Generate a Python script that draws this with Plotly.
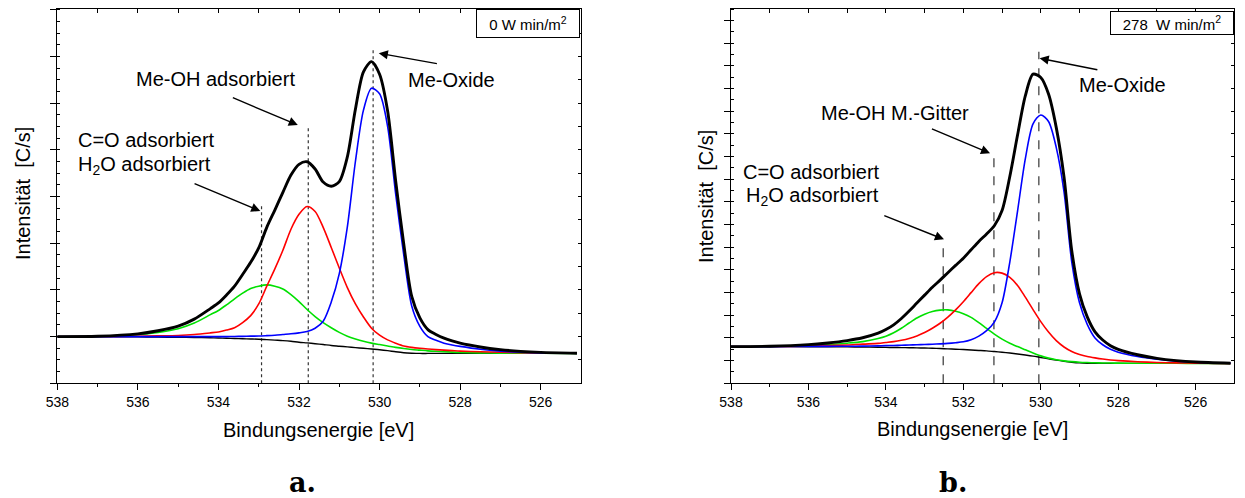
import plotly.graph_objects as go

# ---------------- data: panel a (0 W min/m2) ----------------
energy_a = [538, 537, 536, 535.5, 535, 534.6, 534.2,
            534.0, 533.8, 533.6, 533.4, 533.2, 533.0, 532.8, 532.6, 532.4, 532.2,
            532.0, 531.8, 531.6, 531.4, 531.2, 531.0, 530.8, 530.6, 530.4, 530.2,
            530.0, 529.8, 529.6, 529.4, 529.2, 529.0, 528.8, 528.6, 528.4, 528.2, 528.0,
            527.5, 527.0, 526.5, 526.0, 525.1]
background_a = [1.00, 1.00, 0.995, 0.99, 0.985, 0.98, 0.975,
                0.97, 0.965, 0.96, 0.955, 0.95, 0.945, 0.935, 0.925, 0.915, 0.90,
                0.88, 0.865, 0.848, 0.83, 0.81, 0.795, 0.78, 0.765, 0.75, 0.735,
                0.72, 0.70, 0.675, 0.655, 0.645, 0.64, 0.64, 0.64, 0.64, 0.64, 0.64,
                0.64, 0.64, 0.64, 0.64, 0.64]
green_a = [1.00, 1.005, 1.04, 1.09, 1.17, 1.29, 1.47,
           1.56, 1.68, 1.81, 1.93, 2.03, 2.08, 2.107, 2.08, 2.02, 1.90,
           1.75, 1.58, 1.43, 1.30, 1.19, 1.09, 1.01, 0.95, 0.90, 0.86,
           0.83, 0.80, 0.77, 0.745, 0.725, 0.71, 0.695, 0.685, 0.677, 0.668, 0.66,
           0.652, 0.647, 0.644, 0.642, 0.64]
red_a = [1.00, 1.002, 1.008, 1.015, 1.025, 1.045, 1.08,
         1.10, 1.14, 1.19, 1.30, 1.45, 1.70, 2.08, 2.45, 2.85, 3.30,
         3.62, 3.785, 3.68, 3.34, 2.91, 2.47, 2.05, 1.70, 1.42, 1.18,
         1.03, 0.93, 0.86, 0.80, 0.77, 0.75, 0.735, 0.722, 0.71, 0.70, 0.69,
         0.676, 0.664, 0.655, 0.648, 0.642]
blue_a = [1.00, 1.00, 1.00, 1.00, 1.00, 1.00, 1.00,
          1.00, 1.00, 1.003, 1.006, 1.01, 1.012, 1.02, 1.03, 1.045, 1.06,
          1.08, 1.11, 1.18, 1.33, 1.74, 2.35, 3.35, 4.75, 5.85, 6.32,
          6.20, 5.50, 4.05, 2.75, 1.65, 1.22, 1.00, 0.92, 0.86, 0.82, 0.79,
          0.73, 0.69, 0.665, 0.652, 0.642]
total_a = [1.00, 1.007, 1.058, 1.125, 1.225, 1.375, 1.60,
           1.72, 1.89, 2.08, 2.33, 2.59, 2.90, 3.34, 3.71, 4.09, 4.46,
           4.69, 4.745, 4.59, 4.31, 4.22, 4.32, 4.85, 5.87, 6.67, 6.89,
           6.62, 5.83, 4.33, 2.985, 1.855, 1.40, 1.15, 1.047, 0.967, 0.908, 0.86,
           0.778, 0.721, 0.684, 0.662, 0.644]
marker_energy_a = [532.93, 531.77, 530.16]
marker_top_a = [3.84, 5.51, 7.18]

# ---------------- data: panel b (278 W min/m2) ----------------
energy_b = list(energy_a)
background_b = [1.62, 1.62, 1.615, 1.61, 1.605, 1.60, 1.59,
                1.585, 1.58, 1.575, 1.57, 1.565, 1.555, 1.545, 1.535, 1.52, 1.505,
                1.49, 1.47, 1.45, 1.43, 1.40, 1.37, 1.335, 1.295, 1.25, 1.20,
                1.14, 1.08, 1.02, 0.97, 0.93, 0.90, 0.885, 0.88, 0.88, 0.88, 0.88,
                0.88, 0.88, 0.88, 0.88, 0.88]
green_b = [1.62, 1.63, 1.67, 1.71, 1.77, 1.84, 1.98,
           2.08, 2.23, 2.43, 2.66, 2.88, 3.05, 3.17, 3.23, 3.24, 3.18,
           3.07, 2.91, 2.68, 2.42, 2.17, 1.95, 1.77, 1.62, 1.48, 1.34,
           1.21, 1.11, 1.04, 0.99, 0.955, 0.93, 0.915, 0.905, 0.898, 0.893, 0.89,
           0.886, 0.884, 0.882, 0.881, 0.88]
red_b = [1.62, 1.625, 1.64, 1.66, 1.69, 1.73, 1.76,
         1.80, 1.84, 1.90, 1.98, 2.09, 2.24, 2.43, 2.65, 2.92, 3.24,
         3.60, 4.00, 4.40, 4.71, 4.88, 4.86, 4.67, 4.32, 3.80, 3.25,
         2.72, 2.26, 1.88, 1.60, 1.40, 1.27, 1.18, 1.12, 1.07, 1.03, 1.00,
         0.95, 0.92, 0.90, 0.89, 0.881]
blue_b = [1.62, 1.62, 1.625, 1.63, 1.635, 1.64, 1.65,
          1.66, 1.67, 1.68, 1.69, 1.70, 1.71, 1.725, 1.74, 1.76, 1.79,
          1.83, 1.92, 2.08, 2.32, 2.70, 3.55, 5.35, 7.60, 9.90, 11.45,
          11.84, 11.55, 10.40, 8.45, 5.35, 3.55, 2.60, 2.00, 1.70, 1.50, 1.37,
          1.18, 1.06, 0.98, 0.93, 0.885]
total_b = [1.62, 1.635, 1.705, 1.78, 1.885, 2.01, 2.21,
           2.37, 2.58, 2.86, 3.19, 3.54, 3.89, 4.24, 4.55, 4.88, 5.20,
           5.52, 5.89, 6.26, 6.59, 6.95, 7.62, 9.12, 10.95, 12.68, 13.64,
           13.49, 12.76, 11.28, 9.10, 5.85, 3.95, 2.93, 2.27, 1.91, 1.66, 1.50,
           1.26, 1.10, 1.00, 0.94, 0.886]
marker_energy_b = [532.52, 531.21, 530.05]
marker_top_b = [6.35, 10.29, 14.63]

x_ticks = [538, 536, 534, 532, 530, 528, 526]

W, H = 1245, 498
FONT = "Liberation Sans, Arial, sans-serif"
GREEN = "#00E000"

fig = go.Figure()


def vlines(xs, tops):
    X, Y = [], []
    for e, t in zip(xs, tops):
        X += [e, e, None]
        Y += [0, t, None]
    return X, Y


def add_panel(xa, ya, E, bg, g, r, b, tot, mE, mT, dash):
    X, Y = vlines(mE, mT)
    fig.add_trace(go.Scatter(x=X, y=Y, mode="lines", xaxis=xa, yaxis=ya,
                             line=dict(color="#333333", width=1.2, dash=dash),
                             hoverinfo="skip", showlegend=False))
    common = dict(mode="lines", xaxis=xa, yaxis=ya, hoverinfo="skip", showlegend=False)
    fig.add_trace(go.Scatter(x=E, y=bg, line=dict(color="black", width=1.4, shape="spline", smoothing=0.8), **common))
    fig.add_trace(go.Scatter(x=E, y=g, line=dict(color=GREEN, width=1.6, shape="spline", smoothing=0.8), **common))
    fig.add_trace(go.Scatter(x=E, y=r, line=dict(color="#FF0000", width=1.6, shape="spline", smoothing=0.8), **common))
    fig.add_trace(go.Scatter(x=E, y=b, line=dict(color="#0000FF", width=1.6, shape="spline", smoothing=0.8), **common))
    fig.add_trace(go.Scatter(x=E, y=tot, line=dict(color="black", width=2.9, shape="spline", smoothing=0.8), **common))


add_panel("x", "y", energy_a, background_a, green_a, red_a, blue_a, total_a,
          marker_energy_a, marker_top_a, "dot")
add_panel("x2", "y2", energy_b, background_b, green_b, red_b, blue_b, total_b,
          marker_energy_b, marker_top_b, "dash")

# dummy traces to activate the mirrored (top / right) axes
fig.add_trace(go.Scatter(x=[538], y=[0], xaxis="x3", yaxis="y3", mode="markers",
                         marker=dict(opacity=0), hoverinfo="skip", showlegend=False))
fig.add_trace(go.Scatter(x=[538], y=[0], xaxis="x4", yaxis="y4", mode="markers",
                         marker=dict(opacity=0), hoverinfo="skip", showlegend=False))

ydom = [1 - 383.3 / H, 1 - 9.3 / H]
xdom_a = [57.3 / W, 581 / W]
xdom_b = [731 / W, 1234.4 / W]
yr_a = [0, 8.01]
yr_b = [0, 16.5]

axline = dict(showline=True, linecolor="black", linewidth=1.3, showgrid=False,
              zeroline=False, tickcolor="black", tickwidth=1.1, automargin=False)


def xbottom(dom, yanchor):
    return dict(domain=dom, anchor=yanchor, range=[538, 525], tickmode="array",
                tickvals=x_ticks, ticktext=[str(v) for v in x_ticks],
                ticks="outside", ticklen=6,
                minor=dict(tickvals=[537, 535, 533, 531, 529, 527], ticks="outside",
                           ticklen=3, tickcolor="black", tickwidth=1.1),
                tickfont=dict(family=FONT, size=14, color="black"), **axline)


def yleft(xanchor, rng, dt, mdt):
    return dict(domain=ydom, anchor=xanchor, range=rng, dtick=dt, tick0=0,
                ticks="outside", ticklen=6, showticklabels=False,
                minor=dict(dtick=mdt, ticks="inside", ticklen=3, tickcolor="black",
                           tickwidth=1),
                **axline)


fig.update_layout(
    width=W, height=H, autosize=False, margin=dict(l=0, r=0, t=0, b=0, pad=0),
    paper_bgcolor="white", plot_bgcolor="white",
    xaxis=xbottom(xdom_a, "y"),
    yaxis=yleft("x", yr_a, 1, 0.25),
    xaxis2=xbottom(xdom_b, "y2"),
    yaxis2=yleft("x2", yr_b, 1, 0.5),
    xaxis3=dict(overlaying="x", side="top", anchor="y", range=[538, 525], dtick=1,
                ticks="inside", ticklen=4, showticklabels=False, **axline),
    yaxis3=dict(overlaying="y", side="right", anchor="x", range=yr_a, dtick=0.5,
                ticks="inside", ticklen=3, showticklabels=False, **axline),
    xaxis4=dict(overlaying="x2", side="top", anchor="y2", range=[538, 525], dtick=1,
                ticks="inside", ticklen=4, showticklabels=False, **axline),
    yaxis4=dict(overlaying="y2", side="right", anchor="x2", range=yr_b, dtick=1,
                ticks="inside", ticklen=3, showticklabels=False, **axline),
)

ann = []


def txt(x, y, s, size=20, xanchor="center", yanchor="middle", angle=0, family=FONT, **kw):
    ann.append(dict(x=x / W, y=1 - y / H, xref="paper", yref="paper", text=s,
                    showarrow=False, xanchor=xanchor, yanchor=yanchor, textangle=angle,
                    font=dict(family=family, size=size, color="black"), **kw))


def arrow(xr, yr, tail, head):
    ann.append(dict(x=head[0], y=head[1], ax=tail[0], ay=tail[1], xref=xr, yref=yr,
                    axref=xr, ayref=yr, text="", showarrow=True, arrowhead=2,
                    arrowsize=1.3, arrowwidth=1.4, arrowcolor="black", standoff=0))


# panel a texts
txt(215, 79, "Me-OH adsorbiert")
txt(76, 140, "C=O adsorbiert", xanchor="left")
txt(76, 165, "H<sub>2</sub>O adsorbiert", xanchor="left")
txt(452, 80, "Me-Oxide")
txt(318.5, 430, "Bindungsenergie [eV]")
txt(23, 194, "Intensität\u00a0\u00a0[C/s]", angle=-90)
txt(302.5, 482, "<b>a.</b>", size=27, family="DejaVu Serif, serif")
arrow("x", "y", (533.68, 6.13), (532.03, 5.53))
arrow("x", "y", (534.63, 4.29), (532.96, 3.69))
arrow("x", "y", (528.54, 6.84), (530.02, 7.07))
# box a
ann.append(dict(x=580 / W, y=1 - 9.3 / H, xref="paper", yref="paper",
                text="0 W min/m<sup>2</sup>", showarrow=False, xanchor="right", yanchor="top",
                width=102, height=27, bordercolor="black", borderwidth=1, borderpad=0,
                bgcolor="white", font=dict(family=FONT, size=15, color="black")))

# panel b texts
txt(1122.6, 85, "Me-Oxide")
txt(895, 113.5, "Me-OH M.-Gitter")
txt(811, 171.7, "C=O adsorbiert")
txt(813, 196, "H<sub>2</sub>O adsorbiert")
txt(972, 429, "Bindungsenergie [eV]")
txt(706, 197, "Intensität\u00a0\u00a0[C/s]", angle=-90)
txt(953, 482, "<b>b.</b>", size=27, family="DejaVu Serif, serif")
arrow("x2", "y2", (528.50, 13.82), (530.03, 14.34))
arrow("x2", "y2", (532.85, 11.25), (531.31, 10.15))
arrow("x2", "y2", (534.08, 7.42), (532.50, 6.35))
ann.append(dict(x=1234 / W, y=1 - 11.5 / H, xref="paper", yref="paper",
                text="278\u00a0\u00a0W min/m<sup>2</sup>", showarrow=False, xanchor="right",
                yanchor="top", width=122, height=22, bordercolor="black", borderwidth=1,
                borderpad=0, bgcolor="white", font=dict(family=FONT, size=15, color="black")))

fig.update_layout(annotations=ann)

fig.write_html("out.html", config={"displayModeBar": False},
               post_script="document.body.style.margin='0';")
